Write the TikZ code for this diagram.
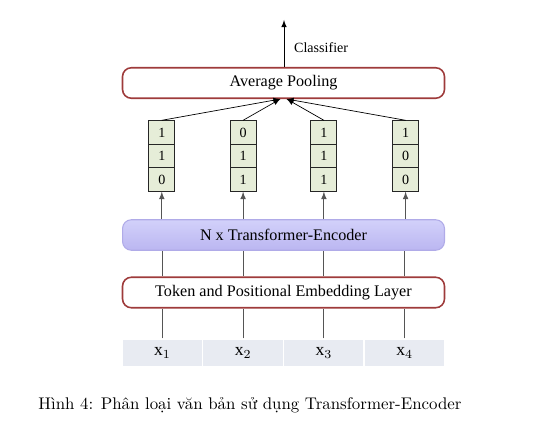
\documentclass[tikz,border=0pt]{standalone}
\usepackage{fontspec}
\newfontfamily\diagfont{Liberation Serif}
\usepackage{tikz}

\definecolor{boxred}{HTML}{9E3B3B}
\definecolor{cellgreen}{HTML}{E6EDD8}
\definecolor{encfill}{HTML}{D2D1FA}
\definecolor{encfilldark}{HTML}{BBB6F1}
\definecolor{encline}{HTML}{B0ABE8}
\definecolor{tokgray}{HTML}{E8EBF2}
\definecolor{wire}{HTML}{555555}

\begin{document}
\begin{tikzpicture}[x=0.02cm,y=-0.02cm,
  layer/.style={draw=boxred,line width=0.9pt,rounded corners=5pt,minimum width=6.44cm,minimum height=0.61cm,inner sep=0pt,font=\diagfont\fontsize{9.2}{10}\selectfont},
  cell/.style={draw=black!85,line width=0.5pt,fill=cellgreen,minimum width=0.52cm,minimum height=0.47cm,inner sep=0pt,font=\diagfont\fontsize{8}{9}\selectfont},
  tok/.style={draw=white,line width=0.8pt,fill=tokgray,minimum width=1.62cm,minimum height=0.56cm,inner sep=0pt,font=\diagfont\fontsize{10}{11}\selectfont},
  wire/.style={draw=wire,line width=0.5pt}]
\useasboundingbox (0,0) rectangle (553,428);

% layers
\node[layer] (pool) at (283.5,83) {Average Pooling};
\node[layer,draw=encline,top color=encfill,bottom color=encfilldark,line width=0.6pt] (enc) at (283.5,235) {N x Transformer-Encoder};
\node[layer] (emb) at (283.5,292.5) {Token and Positional Embedding Layer};

% inputs
\node[tok] (x1) at (162.4,353) {x$_1$};
\node[tok] (x2) at (243.1,353) {x$_2$};
\node[tok] (x3) at (323.9,353) {x$_3$};
\node[tok] (x4) at (404.6,353) {x$_4$};

% output vectors
\node[cell] (v11) at (161.8,132.5) {1};
\node[cell] (v12) at (161.8,156) {1};
\node[cell] (v13) at (161.8,179.5) {0};
\node[cell] (v21) at (243.1,132.5) {0};
\node[cell] (v22) at (243.1,156) {1};
\node[cell] (v23) at (243.1,179.5) {1};
\node[cell] (v31) at (323.9,132.5) {1};
\node[cell] (v32) at (323.9,156) {1};
\node[cell] (v33) at (323.9,179.5) {1};
\node[cell] (v41) at (405.6,132.5) {1};
\node[cell] (v42) at (405.6,156) {0};
\node[cell] (v43) at (405.6,179.5) {0};

% wires
\draw[wire] (x1.north) -- (emb.south -| x1);
\draw[wire] (x2.north) -- (emb.south -| x2);
\draw[wire] (x3.north) -- (emb.south -| x3);
\draw[wire] (x4.north) -- (emb.south -| x4);
\draw[wire] (emb.north -| x1) -- (enc.south -| x1);
\draw[wire] (emb.north -| x2) -- (enc.south -| x2);
\draw[wire] (emb.north -| x3) -- (enc.south -| x3);
\draw[wire] (emb.north -| x4) -- (enc.south -| x4);
\draw[wire,-latex] (enc.north -| v13) -- (v13.south);
\draw[wire,-latex] (enc.north -| v23) -- (v23.south);
\draw[wire,-latex] (enc.north -| v33) -- (v33.south);
\draw[wire,-latex] (enc.north -| v43) -- (v43.south);

% pooling
\coordinate (poolL) at ([xshift=-1.8pt]pool.south);
\coordinate (poolR) at ([xshift=1.8pt]pool.south);
\draw[-latex] (v11.north) -- (poolL);
\draw[-latex] (v21.north) -- (poolL);
\draw[-latex] (v31.north) -- (poolR);
\draw[-latex] (v41.north) -- (poolR);

\coordinate (out) at (284,20);
\draw[-latex] (pool.north -| out) -- (out);
\node[font=\diagfont\fontsize{8}{9}\selectfont,anchor=west] (cls) at (288,48) {Classifier};

% caption
\node[font=\fontsize{9.6}{11}\selectfont] (cap) at (250,405) {Hình 4: Phân loại văn bản sử dụng Transformer-Encoder};
\end{tikzpicture}
\end{document}
